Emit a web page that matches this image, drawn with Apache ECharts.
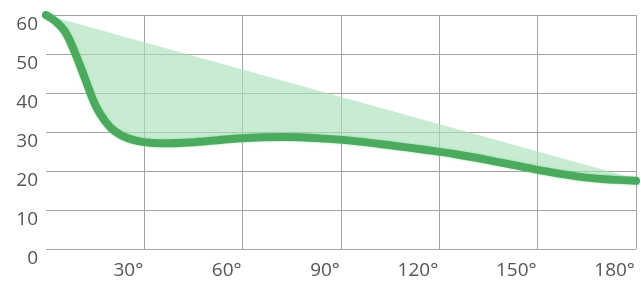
<!DOCTYPE html>
<html>
<head>
<meta charset="utf-8">
<script src="https://cdn.jsdelivr.net/npm/echarts@6/dist/echarts.min.js"></script>
<style>html,body{margin:0;padding:0;background:#fff}#c{width:641px;height:287px}</style>
</head>
<body>
<div id="c"></div>
<script>
// Curve (thick green line)
var curveX = [0, 3, 6, 9, 12, 15, 18, 21, 25, 30, 35, 45, 60, 72, 85, 95, 105, 115, 125, 135, 150, 165, 180];
var curveY = [60, 58.3, 55.5, 50, 43.5, 37, 32.8, 30.2, 28.4, 27.4, 27.1, 27.4, 28.4, 28.7, 28.3, 27.6, 26.6, 25.5, 24.3, 22.8, 20.3, 18.3, 17.5];
// Upper straight envelope of the shaded area
var envX = [0, 180];
var envY = [60, 18];
// Axis ticks
var xTicks = [0, 30, 60, 90, 120, 150, 180];
var yTicks = [0, 10, 20, 30, 40, 50, 60];

var curveData = curveX.map(function (x, i) { return [x, curveY[i]]; });
var envData = envX.map(function (x, i) { return [x, envY[i]]; });

var chart = echarts.init(document.getElementById('c'), null, {renderer: 'canvas'});
var gridColor = '#a3a3a3';
chart.setOption({
  animation: false,
  grid: {left: 46, right: 5, top: 15, bottom: 38},
  xAxis: {
    type: 'value', min: xTicks[0], max: xTicks[xTicks.length - 1], interval: 30,
    axisLine: {show: false}, axisTick: {show: false},
    splitLine: {show: true, showMinLine: false, lineStyle: {color: gridColor, width: 1}},
    axisLabel: {
      color: '#555', fontSize: 19, fontFamily: 'Open Sans', margin: 12,
      align: 'right', padding: [0, 1, 0, 0],
      formatter: function (v) { return v === 0 ? '' : v + '°'; }
    }
  },
  yAxis: {
    type: 'value', min: yTicks[0], max: yTicks[yTicks.length - 1], interval: 10,
    axisLine: {show: false}, axisTick: {show: false},
    splitLine: {show: true, lineStyle: {color: gridColor, width: 1}},
    axisLabel: {color: '#555', fontSize: 19, fontFamily: 'Open Sans', margin: 8, verticalAlign: 'top'}
  },
  series: [
    {
      type: 'custom',
      silent: true,
      data: [[0, 0]],
      z: 1,
      renderItem: function (params, api) {
        var pts = [];
        envData.forEach(function (d) { pts.push(api.coord(d)); });
        for (var i = curveData.length - 1; i >= 0; i--) pts.push(api.coord(curveData[i]));
        return {type: 'polygon', shape: {points: pts}, style: {fill: 'rgba(170,225,185,0.65)', stroke: null}};
      }
    },
    {
      type: 'line',
      data: curveData,
      smooth: 0.4,
      showSymbol: false,
      z: 3,
      lineStyle: {color: '#4caa5e', width: 8, cap: 'round', shadowColor: 'rgba(120,220,140,0.6)', shadowBlur: 3}
    }
  ]
});
</script>
</body>
</html>
